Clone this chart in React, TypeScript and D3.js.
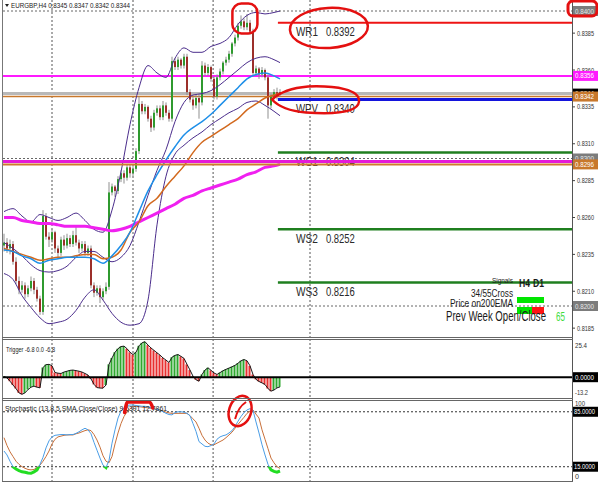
import React from 'react';
import * as d3 from 'd3';

const FONT = "'Liberation Sans', Arial, sans-serif";

const headerText = 'EURGBP,H4  0.8345 0.8347 0.8342 0.8344';
const triggerText = 'Trigger -6.8 0.0 -6.8';
const stochText = 'Stochastic (13,8,5,SMA,Close/Close) 9.5391 12.7861';

// EURGBP H4 candles
const opens = [
  0.8241, 0.8243, 0.8239, 0.8242, 0.8230, 0.8217, 0.8211, 0.8214, 0.8208, 0.8212,
  0.8217, 0.8211, 0.8205, 0.8196, 0.8261, 0.8247, 0.8245, 0.8250, 0.8239, 0.8236,
  0.8245, 0.8241, 0.8246, 0.8242, 0.8248, 0.8243, 0.8239, 0.8242, 0.8236, 0.8239,
  0.8214, 0.8209, 0.8212, 0.8206, 0.8210, 0.8213, 0.8277, 0.8281, 0.8278, 0.8286,
  0.8290, 0.8287, 0.8294, 0.8290, 0.8293, 0.8305, 0.8337, 0.8332, 0.8335, 0.8327,
  0.8321, 0.8331, 0.8334, 0.8328, 0.8336, 0.8331, 0.8327, 0.8366, 0.8362, 0.8367,
  0.8363, 0.8369, 0.8345, 0.8340, 0.8336, 0.8341, 0.8338, 0.8363, 0.8358, 0.8362,
  0.8354, 0.8342, 0.8355, 0.8359, 0.8365, 0.8367, 0.8371, 0.8378, 0.8382, 0.8390,
  0.8393, 0.8389, 0.8392, 0.8386, 0.8358, 0.8361, 0.8357, 0.8360, 0.8355, 0.8336,
  0.8342, 0.8345, 0.8345,
];
const highs = [
  0.8249, 0.8246, 0.8245, 0.8244, 0.8233, 0.8220, 0.8217, 0.8216, 0.8214, 0.8220,
  0.8219, 0.8213, 0.8207, 0.8265, 0.8263, 0.8250, 0.8252, 0.8251, 0.8241, 0.8247,
  0.8248, 0.8249, 0.8248, 0.8251, 0.8254, 0.8245, 0.8244, 0.8244, 0.8241, 0.8241,
  0.8216, 0.8214, 0.8214, 0.8212, 0.8216, 0.8284, 0.8283, 0.8282, 0.8288, 0.8292,
  0.8292, 0.8296, 0.8296, 0.8295, 0.8307, 0.8342, 0.8339, 0.8337, 0.8336, 0.8329,
  0.8333, 0.8336, 0.8336, 0.8339, 0.8338, 0.8333, 0.8369, 0.8368, 0.8369, 0.8368,
  0.8371, 0.8371, 0.8347, 0.8342, 0.8343, 0.8343, 0.8366, 0.8365, 0.8364, 0.8363,
  0.8356, 0.8357, 0.8361, 0.8366, 0.8369, 0.8373, 0.8379, 0.8384, 0.8392, 0.8397,
  0.8395, 0.8398, 0.8394, 0.8388, 0.8363, 0.8362, 0.8362, 0.8361, 0.8357, 0.8344,
  0.8347, 0.8348, 0.8347,
];
const lows = [
  0.8237, 0.8236, 0.8235, 0.8228, 0.8215, 0.8208, 0.8209, 0.8205, 0.8206, 0.8210,
  0.8208, 0.8203, 0.8194, 0.8194, 0.8245, 0.8240, 0.8243, 0.8236, 0.8233, 0.8234,
  0.8238, 0.8239, 0.8240, 0.8240, 0.8241, 0.8236, 0.8237, 0.8234, 0.8234, 0.8212,
  0.8206, 0.8207, 0.8202, 0.8204, 0.8208, 0.8211, 0.8275, 0.8274, 0.8276, 0.8284,
  0.8283, 0.8285, 0.8287, 0.8288, 0.8291, 0.8303, 0.8330, 0.8330, 0.8325, 0.8318,
  0.8319, 0.8329, 0.8326, 0.8326, 0.8329, 0.8325, 0.8325, 0.8360, 0.8360, 0.8361,
  0.8361, 0.8343, 0.8338, 0.8333, 0.8334, 0.8327, 0.8336, 0.8356, 0.8356, 0.8352,
  0.8340, 0.8340, 0.8353, 0.8357, 0.8363, 0.8365, 0.8369, 0.8376, 0.8380, 0.8388,
  0.8387, 0.8387, 0.8384, 0.8356, 0.8356, 0.8354, 0.8355, 0.8353, 0.8327, 0.8334,
  0.8340, 0.8340, 0.8342,
];
const closes = [
  0.8243, 0.8239, 0.8242, 0.8230, 0.8217, 0.8211, 0.8214, 0.8208, 0.8212, 0.8217,
  0.8211, 0.8205, 0.8196, 0.8261, 0.8247, 0.8245, 0.8250, 0.8239, 0.8236, 0.8245,
  0.8241, 0.8246, 0.8242, 0.8248, 0.8243, 0.8239, 0.8242, 0.8236, 0.8239, 0.8214,
  0.8209, 0.8212, 0.8206, 0.8210, 0.8213, 0.8277, 0.8281, 0.8278, 0.8286, 0.8290,
  0.8287, 0.8294, 0.8290, 0.8293, 0.8305, 0.8337, 0.8332, 0.8335, 0.8327, 0.8321,
  0.8331, 0.8334, 0.8328, 0.8336, 0.8331, 0.8327, 0.8366, 0.8362, 0.8367, 0.8363,
  0.8369, 0.8345, 0.8340, 0.8336, 0.8341, 0.8338, 0.8363, 0.8358, 0.8362, 0.8354,
  0.8342, 0.8355, 0.8359, 0.8365, 0.8367, 0.8371, 0.8378, 0.8382, 0.8390, 0.8393,
  0.8389, 0.8392, 0.8386, 0.8358, 0.8361, 0.8357, 0.8360, 0.8355, 0.8336, 0.8342,
  0.8345, 0.8343, 0.8344,
];

// indicator lines, sampled at these bars
const lineBars = [0, 3, 6, 9, 12, 15, 18, 21, 24, 27, 30, 33, 36, 39, 42, 45, 48, 51, 54, 57, 60, 63, 66, 69, 72, 75, 78, 81, 84, 87, 90, 92];
const bbUpper = [
  0.8264, 0.8266, 0.8261, 0.8257, 0.8262, 0.8260, 0.8258, 0.8260, 0.8263, 0.8258, 0.8252, 0.8250, 0.8265, 0.8291, 0.8323, 0.8348,
  0.8363, 0.8358, 0.8355, 0.8368, 0.8375, 0.8372, 0.8372, 0.8376, 0.8378, 0.8382, 0.8391, 0.8397, 0.8399, 0.8398, 0.8399, 0.8400,
];
const bbMiddle = [
  0.8243, 0.8239, 0.8234, 0.8228, 0.8224, 0.8223, 0.8224, 0.8227, 0.8233, 0.8237, 0.8237, 0.8233, 0.8230, 0.8233, 0.8241, 0.8257,
  0.8275, 0.8292, 0.8306, 0.8325, 0.8338, 0.8343, 0.8344, 0.8346, 0.8350, 0.8355, 0.8360, 0.8365, 0.8368, 0.8369, 0.8367, 0.8365,
];
const bbLower = [
  0.8222, 0.8218, 0.8207, 0.8199, 0.8192, 0.8188, 0.8189, 0.8191, 0.8197, 0.8206, 0.8211, 0.8204, 0.8195, 0.8189, 0.8187, 0.8188,
  0.8204, 0.8255, 0.8288, 0.8303, 0.8309, 0.8314, 0.8318, 0.8323, 0.8327, 0.8331, 0.8334, 0.8338, 0.8339, 0.8336, 0.8332, 0.8329,
];
const ema34 = [
  0.8238, 0.8237, 0.8234, 0.8232, 0.8229, 0.8231, 0.8232, 0.8233, 0.8233, 0.8233, 0.8232, 0.8229, 0.8234, 0.8241, 0.8250, 0.8264,
  0.8278, 0.8289, 0.8299, 0.8308, 0.8316, 0.8321, 0.8325, 0.8330, 0.8336, 0.8342, 0.8348, 0.8354, 0.8357, 0.8358, 0.8356, 0.8354,
];
const ema55 = [
  0.8239, 0.8237, 0.8235, 0.8233, 0.8231, 0.8232, 0.8233, 0.8233, 0.8234, 0.8235, 0.8235, 0.8232, 0.8233, 0.8238, 0.8250, 0.8257,
  0.8268, 0.8273, 0.8281, 0.8288, 0.8295, 0.8304, 0.8311, 0.8315, 0.8319, 0.8323, 0.8327, 0.8333, 0.8337, 0.8341, 0.8343, 0.8344,
];
const ema200 = [
  0.8260, 0.8260, 0.8258, 0.8257, 0.8256, 0.8256, 0.8255, 0.8254, 0.8254, 0.8254, 0.8253, 0.8252, 0.8251, 0.8252, 0.8254, 0.8257,
  0.8260, 0.8263, 0.8266, 0.8269, 0.8273, 0.8275, 0.8278, 0.8280, 0.8282, 0.8284, 0.8286, 0.8289, 0.8291, 0.8294, 0.8295, 0.8296,
];

// Trigger oscillator, one value per bar
const trigger = [
  0.5, -0.5, -2.8, -5.5, -8, -11, -12, -11, -8.7, -7,
  -6.3, -7, -7.5, 6.8, 8.8, 9, 8, 3.3, 2.8, 2.6,
  3.6, 4.2, 4.8, 5, 4.6, 4.2, 3.6, 2.6, 1.5, -1.2,
  -5, -7.3, -7.6, -7.7, -5.5, 9, 13.5, 17.5, 20, 21.5,
  21.8, 20, 17.5, 15.9, 17.5, 22, 24.1, 24.9, 22.5, 20.5,
  18.8, 17.1, 15.5, 13.5, 12, 10.3, 14, 15.3, 15.9, 14.6,
  13.2, 9, 5, 0.7, -1.8, -2.8, 1.9, 5, 6.6, 4.8,
  3, 1.9, 3.2, 4.5, 5.5, 6.4, 7.3, 8.3, 9.8, 11.5,
  12.4, 11.5, 8, 1.9, -1.5, -3, -4, -5.1, -8, -9.8,
  -9, -7.5, -6.8,
];

// Stochastic main and signal, one value per bar
const stochMain = [
  35, 30, 22, 15, 12, 10, 8.5, 8, 7, 6.7,
  8.5, 11, 18, 27, 39, 48, 53, 55, 55.5, 56,
  56, 55.5, 56, 56, 57.5, 59.5, 62, 64, 62, 57,
  46, 36, 26, 17, 14, 23, 45, 62, 77, 86,
  90, 93, 93.6, 93.6, 93, 92.5, 92, 92, 91, 90,
  89, 88, 87, 85, 83, 81.5, 81, 84, 85, 85,
  84.5, 83, 80, 70, 60, 47, 44, 41, 40.5, 42,
  44, 50, 53, 54.5, 55.5, 58, 61, 66, 73, 79,
  84, 87.3, 89, 87, 72, 58, 43, 30, 18, 11,
  9, 8, 9.54,
];
const stochSignal = [
  52, 42, 34, 28, 22, 18, 15, 13, 11.5, 11,
  11.5, 14, 17, 22, 28, 35, 44, 50, 53, 54,
  55, 55.5, 55.5, 55.5, 57, 58, 59.5, 61, 62, 61,
  56, 49, 40, 29, 22, 20, 28, 44, 58, 70,
  79, 85, 89, 92, 92, 91.5, 91, 90.5, 90, 89.5,
  88.5, 88, 87.3, 86, 84.5, 83.5, 83, 83, 83, 83,
  83, 83, 80, 76, 72, 64, 55, 49, 45, 43,
  43, 45, 47, 49, 52, 55.5, 59, 64, 69, 73.5,
  78, 83, 86, 87.3, 82, 77, 62, 50, 38, 26,
  20, 15, 12.79,
];

// weekly pivot levels
const pivotNames = ['WR1', 'WPV', 'WS1', 'WS2', 'WS3'];
const pivotValues = [0.8392, 0.8340, 0.8304, 0.8252, 0.8216];
const pivotColors = ['#ee1414', '#1414dc', '#1f7f1f', '#1f7f1f', '#1f7f1f'];
const pivotWidths = [2, 3, 2.5, 2.5, 2.5];
const pivotStartBar = 91.3;

// full-width horizontal price lines
const hLineValues = [0.8356, 0.8344, 0.8342, 0.8298, 0.8296];
const hLineColors = ['#ff1aff', '#b8b8b8', '#c8782c', '#e41ad8', '#cf7a2e'];
const hLineWidths = [2, 3, 1.5, 3, 2];

const gridPrices = [0.84, 0.83, 0.82];
const gridBars = [16, 43, 69.7, 102];
const priceTicks = [0.8385, 0.836, 0.8335, 0.831, 0.8285, 0.826, 0.8235, 0.821, 0.8185];

// right-axis price tags, drawn in this order
const tagValues = [0.84, 0.8356, 0.8344, 0.8342, 0.83, 0.8296, 0.82];
const tagColors = ['#7c7c7c', '#ff1aff', '#000000', '#c8782c', '#7c7c7c', '#c8782c', '#7c7c7c'];
const tagText = ['#e8e8e8', '#ffffff', '#ffffff', '#ffffff', '#e8e8e8', '#ffffff', '#e8e8e8'];

const PLOT_L = 3;
const PLOT_R = 572;

function Txt(props: any) {
  const { x, y, w, size, fill = '#1a1a1a', weight = 'normal', children } = props;
  return (
    <text x={x} y={y} fontSize={size} fontFamily={FONT} fill={fill} fontWeight={weight}
      textLength={w} lengthAdjust="spacingAndGlyphs">{children}</text>
  );
}

export default function App() {
  const n = closes.length;
  const x = d3.scaleLinear().domain([0, n - 1]).range([4, 280]);
  const yM = d3.scaleLinear().domain([0.82, 0.84]).range([306, 11]);
  const yT = d3.scaleLinear().domain([-13.2, 25.4]).range([396, 341]);
  const yS = d3.scaleLinear().domain([0, 100]).range([478.5, 400]);

  const smooth = (vals: number[]) =>
    d3.line<number>().x((_, i) => x(lineBars[i])).y((v) => yM(v)).curve(d3.curveMonotoneX)(vals) || '';
  const perBar = (vals: number[], y: d3.ScaleLinear<number, number>) =>
    d3.line<number>().x((_, i) => x(i)).y((v) => y(v))(vals) || '';

  const bull = '#2f9a2f';
  const bear = '#9c2f2a';
  const red = '#e41010';

  const vGrid = (y0: number, y1: number) =>
    gridBars.map((b, i) => (
      <line key={i} x1={x(b)} x2={x(b)} y1={y0} y2={y1} stroke="#555" strokeWidth={1} strokeDasharray="2 2" />
    ));

  const pivotStart = x(pivotStartBar);

  // hand-drawn highlights
  const peak = { cx: x(80.3), cy: yM(0.8395) };
  const wr1 = { cx: x(108.3), cy: yM(0.83885) };
  const wpv = { cx: x(104), cy: yM(0.834) };
  const loop = { cx: x(78.7), cy: yS(86) };
  const hatPts: [number, number][] = [[40.2, 84], [41.2, 97.5], [48.5, 97.5], [49.6, 90]];
  const hat = d3.line<[number, number]>().x((d) => x(d[0])).y((d) => yS(d[1])).curve(d3.curveMonotoneX)(hatPts) || '';

  const axisSize = 6.5;

  return (
    <svg width={598} height={486} style={{ position: 'absolute', left: 0, top: 0, background: '#fff' }}>
      <rect x={0} y={0} width={598} height={486} fill="#fff" />
      <defs>
        <clipPath id="mainClip"><rect x={PLOT_L} y={0} width={PLOT_R - PLOT_L} height={337} /></clipPath>
        <clipPath id="trigClip"><rect x={PLOT_L} y={340} width={PLOT_R - PLOT_L} height={58} /></clipPath>
        <clipPath id="stochClip"><rect x={PLOT_L} y={401} width={PLOT_R - PLOT_L} height={80} /></clipPath>
        <clipPath id="oversold"><rect x={PLOT_L} y={yS(15)} width={PLOT_R - PLOT_L} height={30} /></clipPath>
      </defs>

      {/* ---------- main price panel ---------- */}
      <g clipPath="url(#mainClip)">
        {vGrid(0, 337)}
        {gridPrices.map((p, i) => (
          <line key={i} x1={PLOT_L} x2={PLOT_R} y1={yM(p)} y2={yM(p)} stroke="#666" strokeDasharray="2 2" />
        ))}

        {hLineValues.slice(0, 3).map((v, i) => (
          <line key={i} x1={PLOT_L} x2={PLOT_R} y1={yM(v)} y2={yM(v)} stroke={hLineColors[i]} strokeWidth={hLineWidths[i]} />
        ))}

        {/* candles */}
        {closes.map((c, i) => {
          const o = opens[i];
          const up = c >= o;
          const cx = x(i);
          const top = yM(Math.max(o, c));
          const bot = yM(Math.min(o, c));
          return (
            <g key={i}>
              <line x1={cx} x2={cx} y1={yM(highs[i])} y2={yM(lows[i])} stroke="#8f8f8f" strokeWidth={1} />
              <rect x={cx - 1} y={top} width={2} height={Math.max(1, bot - top)} fill={up ? bull : bear} />
            </g>
          );
        })}

        {/* Bollinger bands */}
        {[bbUpper, bbMiddle, bbLower].map((vals, i) => (
          <path key={i} d={smooth(vals)} fill="none" stroke="#4b2d8c" strokeWidth={1} />
        ))}
        <path d={smooth(ema200)} fill="none" stroke="#f020f0" strokeWidth={3} />
        <path d={smooth(ema55)} fill="none" stroke="#d2691e" strokeWidth={1.5} />
        <path d={smooth(ema34)} fill="none" stroke="#1e8fe8" strokeWidth={1.5} />

        {/* weekly pivots */}
        {pivotValues.map((v, i) => (
          <g key={i}>
            <line x1={pivotStart} x2={PLOT_R} y1={yM(v)} y2={yM(v)} stroke={pivotColors[i]} strokeWidth={pivotWidths[i]} />
            <Txt x={pivotStart + 18} y={yM(v) + 13.5} w={22} size={13} fill="#2a2a2a">{pivotNames[i]}</Txt>
            <Txt x={pivotStart + 48} y={yM(v) + 13.5} w={29} size={13} fill="#2a2a2a">{v.toFixed(4)}</Txt>
          </g>
        ))}

        {hLineValues.slice(3).map((v, i) => (
          <line key={i} x1={PLOT_L} x2={PLOT_R} y1={yM(v)} y2={yM(v)} stroke={hLineColors[i + 3]} strokeWidth={hLineWidths[i + 3]} />
        ))}

        {/* signal panel */}
        <Txt x={492} y={283} w={21} size={8}>Signals</Txt>
        <Txt x={519} y={287} w={11} size={11} weight="bold">H4</Txt>
        <Txt x={533} y={287} w={11} size={11} weight="bold">D1</Txt>
        <Txt x={471} y={297} w={42} size={10}>34/55Cross</Txt>
        <rect x={517} y={297} width={27} height={6} fill="#00e600" />
        <Txt x={450} y={307} w={63} size={10}>Price on200EMA</Txt>
        <rect x={517} y={307} width={15} height={7} fill="#00e600" />
        <rect x={532} y={307} width={12} height={7} fill="#ff1414" />
        <Txt x={446} y={321} w={100} size={14}>Prev Week Open/Close</Txt>
        <Txt x={556} y={321} w={9} size={12} fill="#3fdc3f">65</Txt>

        {/* highlights */}
        <rect x={peak.cx - 12.5} y={peak.cy - 15} width={25} height={30} rx={9} fill="none" stroke={red} strokeWidth={2.5} />
        <ellipse cx={wr1.cx} cy={wr1.cy} rx={39} ry={20} fill="none" stroke={red} strokeWidth={2.5} transform={`rotate(-3 ${wr1.cx} ${wr1.cy})`} />
        <path d={`M ${wpv.cx + 43} ${wpv.cy + 2} C ${wpv.cx + 44} ${wpv.cy - 10} ${wpv.cx + 20} ${wpv.cy - 14} ${wpv.cx - 8} ${wpv.cy - 13}
                 Q ${wpv.cx - 32} ${wpv.cy - 11} ${wpv.cx - 44} ${wpv.cy}
                 Q ${wpv.cx - 34} ${wpv.cy + 11} ${wpv.cx - 10} ${wpv.cy + 13}
                 C ${wpv.cx + 18} ${wpv.cy + 15} ${wpv.cx + 42} ${wpv.cy + 13} ${wpv.cx + 43} ${wpv.cy + 2} Z`}
          fill="none" stroke={red} strokeWidth={2.5} />
      </g>

      {/* ---------- trigger panel ---------- */}
      <g clipPath="url(#trigClip)">
        {vGrid(339, 398)}
        {trigger.map((v, i) => {
          const rising = i === 0 ? v >= 0 : v >= trigger[i - 1];
          const y0 = yT(0);
          const y1 = yT(v);
          return (
            <rect key={i} x={x(i) - 1.5} y={Math.min(y0, y1)} width={2} height={Math.abs(y1 - y0)}
              fill={rising ? '#2fa82f' : '#e83030'} />
          );
        })}
        <path d={perBar(trigger, yT)} fill="none" stroke="#1a1a1a" strokeWidth={1} />
        <line x1={PLOT_L} x2={PLOT_R} y1={yT(0)} y2={yT(0)} stroke="#000" strokeWidth={2} />
        <Txt x={6} y={352} w={49} size={8}>{triggerText}</Txt>
      </g>

      {/* ---------- stochastic panel ---------- */}
      <g clipPath="url(#stochClip)">
        {vGrid(400, 482)}
        {[85, 15].map((lv) => (
          <line key={lv} x1={PLOT_L} x2={PLOT_R} y1={yS(lv)} y2={yS(lv)} stroke="#333" strokeDasharray="2 2" />
        ))}
        <path d={perBar(stochSignal, yS)} fill="none" stroke="#c8703a" strokeWidth={1} />
        <path d={perBar(stochMain, yS)} fill="none" stroke="#4a9de6" strokeWidth={1} />
        <path d={perBar(stochMain, yS)} fill="none" stroke="#22dd22" strokeWidth={3} clipPath="url(#oversold)" />
        <Txt x={5} y={411} w={162} size={8}>{stochText}</Txt>
      </g>

      {/* stochastic highlights */}
      <path d={hat} fill="none" stroke={red} strokeWidth={3.5} strokeLinecap="round" />
      <ellipse cx={loop.cx} cy={loop.cy} rx={11} ry={15.5} fill="none" stroke={red} strokeWidth={2.5} transform={`rotate(18 ${loop.cx} ${loop.cy})`} />
      <path d={`M ${loop.cx + 6} ${loop.cy - 9} Q ${loop.cx - 2} ${loop.cy - 4} ${loop.cx - 5} ${loop.cy + 8}`} fill="none" stroke={red} strokeWidth={2} />

      {/* ---------- frames ---------- */}
      <line x1={2.5} x2={2.5} y1={0} y2={482} stroke="#777" />
      <line x1={PLOT_R + 0.5} x2={PLOT_R + 0.5} y1={0} y2={482} stroke="#555" />
      <line x1={2} x2={PLOT_R + 1} y1={337.5} y2={337.5} stroke="#666" />
      <line x1={2} x2={PLOT_R + 1} y1={339.5} y2={339.5} stroke="#666" />
      <line x1={2} x2={PLOT_R + 1} y1={398.5} y2={398.5} stroke="#666" />
      <line x1={2} x2={PLOT_R + 1} y1={400.5} y2={400.5} stroke="#666" />
      <line x1={2} x2={PLOT_R + 1} y1={481.5} y2={481.5} stroke="#666" />

      {/* header */}
      <path d="M 5 4 L 9 4 L 7 7 Z" fill="#222" />
      <Txt x={11} y={8} w={119} size={8}>{headerText}</Txt>

      {/* price axis */}
      {priceTicks.map((p) => (
        <g key={p}>
          <line x1={PLOT_R} x2={PLOT_R + 3} y1={yM(p)} y2={yM(p)} stroke="#444" />
          <Txt x={577} y={yM(p) + 2.5} w={17} size={axisSize} fill="#333">{p.toFixed(4)}</Txt>
        </g>
      ))}
      {tagValues.map((v, i) => (
        <g key={i}>
          <rect x={573} y={yM(v) - 5} width={25} height={10} fill={tagColors[i]} />
          <Txt x={575} y={yM(v) + 2.5} w={19} size={axisSize} fill={tagText[i]}>{v.toFixed(4)}</Txt>
        </g>
      ))}
      <rect x={568} y={yM(0.84) - 10} width={29} height={15} rx={5} fill="none" stroke={red} strokeWidth={3} />

      {/* trigger axis */}
      <Txt x={575} y={348} w={12} size={axisSize} fill="#333">25.4</Txt>
      <rect x={573} y={yT(0) - 5} width={25} height={10} fill="#000" />
      <Txt x={575} y={yT(0) + 2.5} w={19} size={axisSize} fill="#fff">0.0000</Txt>
      <Txt x={575} y={395} w={13} size={axisSize} fill="#333">-13.2</Txt>

      {/* stochastic axis */}
      <Txt x={575} y={406} w={10} size={axisSize} fill="#333">100</Txt>
      {[85, 15].map((lv) => (
        <g key={lv}>
          <rect x={573} y={yS(lv) - 5} width={25} height={10} fill="#000" />
          <Txt x={574} y={yS(lv) + 2.5} w={21} size={axisSize} fill="#fff">{lv.toFixed(4)}</Txt>
        </g>
      ))}
      <Txt x={575} y={479} w={4} size={axisSize} fill="#333">0</Txt>
    </svg>
  );
}
